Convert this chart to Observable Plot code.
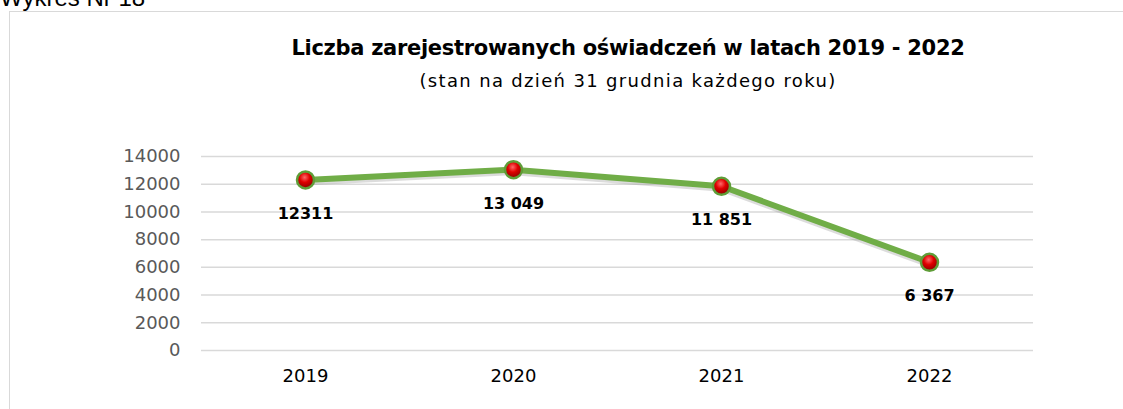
<!DOCTYPE html>
<html>
<head>
<meta charset="utf-8">
<script src="https://cdn.jsdelivr.net/npm/d3@7"></script>
<script src="https://cdn.jsdelivr.net/npm/@observablehq/plot@0.6"></script>
<style>
  html, body { margin: 0; padding: 0; background: #fff; overflow: hidden; }
  #wrap { position: relative; width: 1123px; height: 409px; font-family: "DejaVu Sans", sans-serif; }
  #caption { position: absolute; left: 0; top: -16px; font: 24px "Liberation Sans", Arial, sans-serif; color: #000; white-space: nowrap; }
  #box { position: absolute; left: 9px; top: 11px; width: 1200px; height: 500px; border: 1px solid #d9d9d9; box-sizing: border-box; }
  .t { position: absolute; left: 0; width: 1256px; text-align: center; color: #000; white-space: nowrap; }
  #title { top: 36px; font-weight: bold; font-size: 21px; }
  #subtitle { top: 70px; font-size: 18px; }
  #chart { position: absolute; left: 0; top: 0; }
  .t span { display: inline-block; }
</style>
</head>
<body>
<div id="wrap">
  <div id="caption">Wykres Nr 18</div>
  <div id="box"></div>
  <div id="title" class="t"><span>Liczba zarejestrowanych oświadczeń w latach 2019 - 2022</span></div>
  <div id="subtitle" class="t"><span>(stan na dzień 31 grudnia każdego roku)</span></div>
  <div id="chart"></div>
</div>
<script>
const years = ["2019", "2020", "2021", "2022"];
const values = [12311, 13049, 11851, 6367];
const valueLabels = ["12311", "13 049", "11 851", "6 367"];
const yTicks = [0, 2000, 4000, 6000, 8000, 10000, 12000, 14000];

const data = years.map((y, i) => ({year: y, value: values[i], label: valueLabels[i]}));
const font = "'DejaVu Sans', sans-serif";

// fit heading widths to the reference's widths
function fit(id, target) {
  const span = document.querySelector("#" + id + " span");
  const n = span.textContent.length;
  const w = span.getBoundingClientRect().width;
  span.style.letterSpacing = ((target - w) / n) + "px";
}
fit("title", 673);
fit("subtitle", 417);

const chart = Plot.plot({
  width: 1123,
  height: 409,
  marginTop: 156,
  marginBottom: 59,
  marginLeft: 201,
  marginRight: 90,
  style: {fontFamily: font, background: "transparent", overflow: "visible"},
  x: {type: "band", domain: years, label: null, padding: 0},
  y: {domain: [0, 14000], label: null},
  marks: [
    Plot.gridY(yTicks, {stroke: "#d9d9d9", strokeOpacity: 1, strokeWidth: 1.5}),
    Plot.axisY({ticks: yTicks, tickSize: 0, tickPadding: 21, tickFormat: d => String(d), fontSize: 18, fill: "#595959", label: null}),
    Plot.axisX({tickSize: 0, tickPadding: 19, fontSize: 18, fill: "#000", label: null}),
    Plot.line(data, {x: "year", y: "value", stroke: "#9a9a9a", strokeWidth: 6, strokeOpacity: 0.35, dy: 2.5, curve: "linear"}),
    Plot.line(data, {x: "year", y: "value", stroke: "#70ad47", strokeWidth: 6, curve: "linear"}),
    Plot.dot(data, {x: "year", y: "value", r: 8.5, fill: "url(#redball)", stroke: "#5f9d38", strokeWidth: 2.5}),
    Plot.text(data, {x: "year", y: "value", text: "label", dy: 34, fontSize: 16, fontWeight: "bold", fill: "#000"})
  ]
});

const ns = "http://www.w3.org/2000/svg";
const defs = document.createElementNS(ns, "defs");
defs.innerHTML = '<radialGradient id="redball" cx="45%" cy="35%" r="65%"><stop offset="0%" stop-color="#ff6a6a"/><stop offset="45%" stop-color="#e00000"/><stop offset="100%" stop-color="#8a0000"/></radialGradient>';
chart.insertBefore(defs, chart.firstChild);
document.getElementById("chart").appendChild(chart);
</script>
</body>
</html>
